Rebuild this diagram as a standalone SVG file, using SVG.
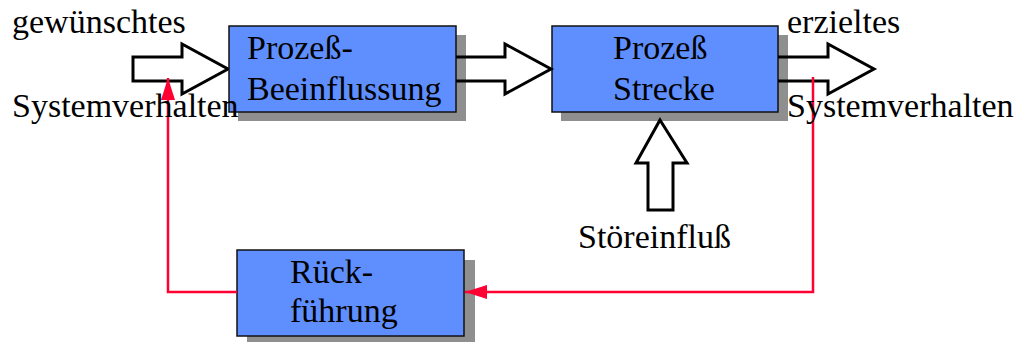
<svg xmlns="http://www.w3.org/2000/svg" width="1023" height="342" viewBox="0 0 1023 342">
<style>
text{font-family:"Liberation Serif","Times New Roman",serif;font-size:34px;fill:#000}
.box{fill:#5F8FFF;stroke:#111;stroke-width:1.5}
.shadow{fill:#8F8F8F}
.arr{fill:#fff;stroke:#000;stroke-width:3;stroke-linejoin:miter}
.arrl{fill:none;stroke:#000;stroke-width:3;stroke-linejoin:miter}
.red{fill:none;stroke:#FF0033;stroke-width:2.5}
</style>
<defs>
<marker id="rh" viewBox="0 0 22 14" refX="22" refY="7" markerWidth="22" markerHeight="14" markerUnits="userSpaceOnUse" orient="auto">
<path d="M0,0 L22,7 L0,14 Z" fill="#FF0033"/>
</marker>
</defs>
<g id="input-arrow">
<path class="arr" d="M133,57 H182 V44 L228,69 L182,94 V81 H133 Z"/>
</g>
<g id="node-beeinflussung">
<rect class="shadow" x="238" y="35" width="228" height="86"/>
<rect class="box" x="229" y="26" width="227" height="86"/>
<text x="247" y="59">Prozeß-</text>
<text x="247" y="100">Beeinflussung</text>
</g>
<g id="node-strecke">
<rect class="shadow" x="561" y="35" width="227" height="86"/>
<rect class="box" x="552" y="26" width="226" height="86"/>
<text x="613" y="59">Prozeß</text>
<text x="613" y="100">Strecke</text>
</g>
<g id="node-rueckfuehrung">
<rect class="shadow" x="247" y="260" width="228" height="86"/>
<rect class="box" x="237" y="250" width="227" height="86"/>
<text x="290" y="283">Rück-</text>
<text x="290" y="322">führung</text>
</g>
<g id="connectors">
<path d="M466,57 H505 V44 L551,69 L505,94 V81 H466 Z" fill="#fff"/>
<path class="arrl" d="M456,57 H505 V44 L551,69 L505,94 V81 H456"/>
<path d="M788,57 H828 V44 L874,69 L828,94 V81 H788 Z" fill="#fff"/>
<path class="arrl" d="M778,57 H828 V44 L874,69 L828,94 V81 H778"/>
<path class="arr" d="M660,120 L687,163 H673 V210 H648 V163 H636 Z"/>
<path class="red" d="M813,77 V292 H465" marker-end="url(#rh)"/>
<path class="red" d="M237,292 H168 V78" marker-end="url(#rh)"/>
</g>
<g id="labels">
<text x="12" y="33">gewünschtes</text>
<text x="12" y="117">Systemverhalten</text>
<text x="787" y="33">erzieltes</text>
<text x="787" y="117">Systemverhalten</text>
<text x="578" y="248">Störeinfluß</text>
</g>
</svg>
